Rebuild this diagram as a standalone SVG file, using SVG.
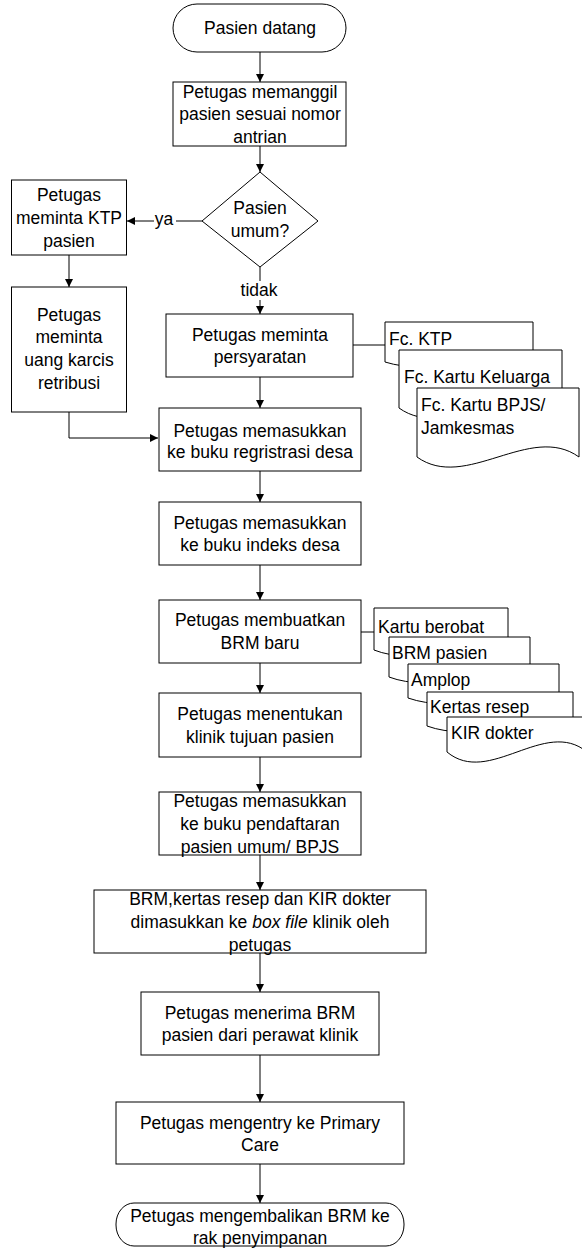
<svg xmlns="http://www.w3.org/2000/svg" width="582" height="1248" viewBox="0 0 582 1248">
<defs>
<marker id="ah" markerWidth="10" markerHeight="10" refX="8" refY="4" orient="auto" markerUnits="userSpaceOnUse">
<path d="M0,0 L8,4 L0,8 Z" fill="#000"/>
</marker>
<style>
.s{fill:#fff;stroke:#000;stroke-width:1}
.t{font-family:"Liberation Sans",Arial,sans-serif;font-size:17.5px;fill:#000;text-anchor:middle}
.l{font-family:"Liberation Sans",Arial,sans-serif;font-size:17.5px;fill:#000;text-anchor:start}
.c{fill:none;stroke:#000;stroke-width:1}
.a{fill:none;stroke:#000;stroke-width:1;marker-end:url(#ah)}
</style>
</defs>
<rect width="582" height="1248" fill="#fff"/>

<g id="connectors">
<line class="a" x1="260" y1="52" x2="260" y2="82"/>
<line class="a" x1="260" y1="146" x2="260" y2="172"/>
<line class="c" x1="202" y1="221" x2="176" y2="221"/>
<line class="a" x1="154" y1="221" x2="127" y2="221"/>
<line class="a" x1="69" y1="255" x2="69" y2="287"/>
<polyline class="a" points="69,412 69,438 158,438"/>
<line class="c" x1="260" y1="267" x2="260" y2="281"/>
<line class="a" x1="260" y1="300" x2="260" y2="314"/>
<line class="a" x1="260" y1="377" x2="260" y2="408"/>
<line class="c" x1="353" y1="345" x2="385" y2="345"/>
<line class="a" x1="260" y1="471" x2="260" y2="502"/>
<line class="a" x1="260" y1="565" x2="260" y2="600"/>
<line class="c" x1="361" y1="632" x2="374" y2="632"/>
<line class="a" x1="260" y1="663" x2="260" y2="693"/>
<line class="a" x1="260" y1="757" x2="260" y2="792"/>
<line class="a" x1="260" y1="855" x2="260" y2="890"/>
<line class="a" x1="260" y1="953" x2="260" y2="992"/>
<line class="a" x1="260" y1="1055" x2="260" y2="1102"/>
<line class="a" x1="260" y1="1164" x2="260" y2="1203"/>
<text class="t" x="164" y="225">ya</text>
<text class="t" x="259" y="296">tidak</text>
</g>

<g id="start">
<rect class="s" x="173" y="4" width="173" height="48" rx="24" ry="24"/>
<text class="t" x="260" y="34">Pasien datang</text>
</g>

<g id="panggil">
<rect class="s" x="173" y="82" width="173" height="64"/>
<text class="t" x="260" y="98">Petugas memanggil</text>
<text class="t" x="260" y="120">pasien sesuai nomor</text>
<text class="t" x="260" y="143">antrian</text>
</g>

<g id="decision">
<polygon class="s" points="260,172 318,221 260,267 202,221"/>
<text class="t" x="260" y="214">Pasien</text>
<text class="t" x="260" y="237">umum?</text>
</g>

<g id="ktp">
<rect class="s" x="11.5" y="180" width="115" height="75"/>
<text class="t" x="69" y="201">Petugas</text>
<text class="t" x="69" y="224">meminta KTP</text>
<text class="t" x="69" y="247">pasien</text>
</g>

<g id="karcis">
<rect class="s" x="11.5" y="287" width="115" height="125"/>
<text class="t" x="69" y="321">Petugas</text>
<text class="t" x="69" y="343">meminta</text>
<text class="t" x="69" y="366">uang karcis</text>
<text class="t" x="69" y="389">retribusi</text>
</g>

<g id="persyaratan">
<rect class="s" x="166" y="314" width="187" height="63"/>
<text class="t" x="260" y="341">Petugas meminta</text>
<text class="t" x="260" y="363">persyaratan</text>
</g>

<g id="doc-fc">
<path class="s" d="M385,322 H533 V366 C488.6,356 429.4,376 385,362 Z"/>
<text class="l" x="389" y="345">Fc. KTP</text>
<path class="s" d="M399,350 H562 V408 C513.9,373 447.9,443 399,408 Z"/>
<text class="l" x="404" y="383">Fc. Kartu Keluarga</text>
<path class="s" d="M417,388 H579 V457 C530.4,422 465.6,492 417,457 Z"/>
<text class="l" x="421" y="411">Fc. Kartu BPJS/</text>
<text class="l" x="421" y="434">Jamkesmas</text>
</g>

<g id="regristrasi">
<rect class="s" x="159" y="408" width="202" height="63"/>
<text class="t" x="260" y="437">Petugas memasukkan</text>
<text class="t" x="260" y="458">ke buku regristrasi desa</text>
</g>

<g id="indeks">
<rect class="s" x="159" y="502" width="202" height="63"/>
<text class="t" x="260" y="529">Petugas memasukkan</text>
<text class="t" x="260" y="551">ke buku indeks desa</text>
</g>

<g id="brm-baru">
<rect class="s" x="159" y="600" width="202" height="63"/>
<text class="t" x="260" y="626">Petugas membuatkan</text>
<text class="t" x="260" y="649">BRM baru</text>
</g>

<g id="doc-brm">
<path class="s" d="M374,608 H508 V654 C467.8,644 414.2,666 374,650 Z"/>
<text class="l" x="378" y="633">Kartu berobat</text>
<path class="s" d="M389,637 H530 V681 C487.7,671 431.3,693 389,677 Z"/>
<text class="l" x="392" y="659">BRM pasien</text>
<path class="s" d="M408,664 H559 V702 C513.7,692 453.3,714 408,698 Z"/>
<text class="l" x="411" y="686">Amplop</text>
<path class="s" d="M427,692 H573 V730 C529.2,720 470.8,742 427,726 Z"/>
<text class="l" x="430" y="713">Kertas resep</text>
<path class="s" d="M447,717 H587 V752 C545,717 489,787 447,752 Z"/>
<text class="l" x="451" y="739">KIR dokter</text>
</g>

<g id="klinik">
<rect class="s" x="159" y="693" width="202" height="64"/>
<text class="t" x="260" y="720">Petugas menentukan</text>
<text class="t" x="260" y="743">klinik tujuan pasien</text>
</g>

<g id="pendaftaran">
<rect class="s" x="159" y="792" width="202" height="63"/>
<text class="t" x="260" y="807">Petugas memasukkan</text>
<text class="t" x="260" y="830">ke buku pendaftaran</text>
<text class="t" x="260" y="853">pasien umum/ BPJS</text>
</g>

<g id="boxfile">
<rect class="s" x="94" y="890" width="332" height="63"/>
<text class="t" x="260" y="905">BRM,kertas resep dan KIR dokter</text>
<text class="t" x="260" y="928">dimasukkan ke <tspan font-style="italic">box file</tspan> klinik oleh</text>
<text class="t" x="260" y="951">petugas</text>
</g>

<g id="menerima">
<rect class="s" x="141" y="992" width="238" height="63"/>
<text class="t" x="260" y="1019">Petugas menerima BRM</text>
<text class="t" x="260" y="1041">pasien dari perawat klinik</text>
</g>

<g id="entry">
<rect class="s" x="116" y="1102" width="288" height="62"/>
<text class="t" x="260" y="1129">Petugas mengentry ke Primary</text>
<text class="t" x="260" y="1151">Care</text>
</g>

<g id="end">
<rect class="s" x="116" y="1203" width="288" height="43" rx="18" ry="21"/>
<text class="t" x="260" y="1222">Petugas mengembalikan BRM ke</text>
<text class="t" x="260" y="1244">rak penyimpanan</text>
</g>
</svg>
